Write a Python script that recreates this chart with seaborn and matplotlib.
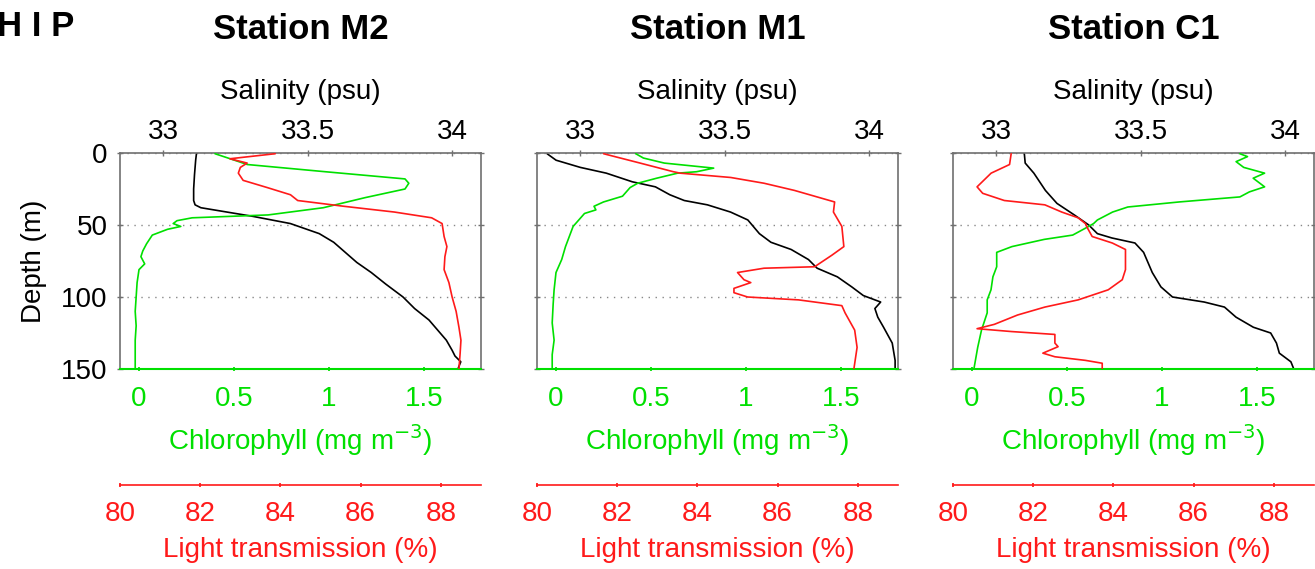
import matplotlib
matplotlib.use("Agg")
import matplotlib.pyplot as plt
import seaborn as sns
from matplotlib.ticker import FormatStrFormatter

sns.set_theme(style="ticks")
plt.rcParams['font.family'] = ['Liberation Sans', 'DejaVu Sans']
plt.rcParams['text.color'] = 'black'
plt.rcParams['axes.labelcolor'] = 'black'
plt.rcParams['xtick.labelcolor'] = 'black'
plt.rcParams['ytick.labelcolor'] = 'black'

GREEN = '#00e000'
RED = '#ff1a1a'
SPINE = '#707070'

stations = ["Station M2", "Station M1", "Station C1"]
sal_ticks = [33, 33.5, 34]
chl_ticks = [0, 0.5, 1, 1.5]
lt_ticks = [80, 82, 84, 86, 88]
depth_ticks = [0, 50, 100, 150]

# --- Station M2 ---
m2_sal_depth = [0, 5, 15, 25, 33, 36, 38, 41, 44, 49, 56, 62, 69, 76, 83, 91, 100, 108, 116, 123, 130, 137, 141, 145, 150]
m2_sal = [33.115, 33.112, 33.108, 33.105, 33.105, 33.11, 33.13, 33.22, 33.31, 33.44, 33.54, 33.59, 33.63, 33.67,
          33.72, 33.77, 33.83, 33.87, 33.92, 33.95, 33.98, 34.0, 34.01, 34.03, 34.02]
m2_chl_depth = [0.5, 4, 8, 13, 18, 21, 25, 31, 38, 43, 45, 47, 49, 51, 53, 57, 63, 68, 72, 77, 81, 90, 100, 110,
                120, 130, 140, 150]
m2_chl = [0.40, 0.48, 0.57, 0.98, 1.40, 1.42, 1.40, 1.19, 0.97, 0.68, 0.28, 0.20, 0.18, 0.22, 0.15, 0.07, 0.04,
          0.02, 0.01, 0.03, 0.0, -0.01, -0.015, -0.02, -0.015, -0.02, -0.02, -0.02]
m2_lt_depth = [0.5, 4, 7, 10, 14, 19, 24, 29, 33, 37, 41, 45, 49, 58, 65, 72, 81, 90, 100, 110, 121, 130, 139, 150]
m2_lt = [83.87, 82.74, 83.17, 83.0, 82.95, 83.07, 83.67, 84.25, 84.43, 85.58, 86.84, 87.77, 88.03, 88.08, 88.15,
         88.1, 88.08, 88.2, 88.28, 88.38, 88.45, 88.5, 88.48, 88.45]

# --- Station M1 ---
m1_sal_depth = [0.5, 5, 10, 14, 20, 23.5, 29, 33, 36, 41, 46.5, 56, 62, 67, 74, 80, 86, 93, 99, 103.5, 108, 114,
                121, 132, 144, 150]
m1_sal = [32.885, 32.916, 33.0, 33.09, 33.18, 33.26, 33.31, 33.36, 33.44, 33.52, 33.58, 33.62, 33.66, 33.73, 33.79,
          33.82, 33.89, 33.94, 33.98, 34.04, 34.02, 34.03, 34.05, 34.08, 34.09, 34.09]
m1_chl_depth = [0.5, 3.5, 7, 10.5, 13, 14, 17.5, 21, 24, 30, 34, 37, 39.5, 42, 46.5, 51, 58, 65, 74, 83, 95, 105,
                118, 130, 140, 150]
m1_chl = [0.42, 0.46, 0.57, 0.83, 0.74, 0.64, 0.53, 0.43, 0.39, 0.35, 0.25, 0.20, 0.21, 0.15, 0.12, 0.09, 0.07,
          0.05, 0.03, 0.0, -0.01, -0.015, -0.02, -0.01, -0.02, -0.02]
m1_lt_depth = [0.5, 7, 13, 14, 17, 21, 26, 30, 34, 41, 51, 65, 71, 79, 80, 83, 88, 90, 94, 97, 100, 102, 106, 111,
               123, 135, 150]
m1_lt = [81.66, 82.57, 83.40, 83.57, 84.83, 85.66, 86.42, 86.92, 87.42, 87.39, 87.6, 87.65, 87.35, 86.92, 85.66,
         85.0, 85.16, 85.33, 84.91, 84.91, 85.25, 86.52, 87.60, 87.68, 87.92, 87.98, 87.9]

# --- Station C1 ---
c1_sal_depth = [0.5, 7, 14, 26, 35, 43, 50, 56, 59, 62.5, 69, 83, 93, 100, 103.5, 107, 114, 121, 125, 132, 139,
                145, 150]
c1_sal = [33.097, 33.10, 33.13, 33.17, 33.21, 33.27, 33.32, 33.35, 33.40, 33.48, 33.51, 33.54, 33.57, 33.61, 33.72,
          33.79, 33.83, 33.89, 33.95, 33.97, 33.98, 34.02, 34.03]
c1_chl_depth = [0.5, 2.5, 6, 10, 14, 17.5, 23.5, 27, 30.5, 34, 37.5, 41, 46.5, 49, 52, 57, 60, 65, 69, 79, 86, 95,
                102, 111, 123, 135, 150]
c1_chl = [1.41, 1.45, 1.39, 1.43, 1.54, 1.48, 1.54, 1.46, 1.41, 1.09, 0.82, 0.74, 0.66, 0.64, 0.60, 0.53, 0.38,
          0.21, 0.13, 0.13, 0.11, 0.10, 0.08, 0.08, 0.05, 0.03, 0.01]
c1_lt_depth = [0.5, 8, 14, 23.5, 28, 33, 36, 41, 45, 49, 53, 58, 62.5, 67, 81, 88, 95, 102, 107, 112.5, 119, 122,
               124, 126, 132, 134.5, 139, 141.5, 144, 146, 150]
c1_lt = [81.45, 81.41, 80.95, 80.6, 80.74, 81.28, 82.29, 82.71, 83.12, 83.3, 83.37, 83.47, 83.97, 84.3, 84.3,
         84.22, 83.87, 83.12, 82.29, 81.61, 81.03, 80.6, 81.46, 82.54, 82.54, 82.62, 82.24, 82.54, 83.3, 83.72, 83.72]

profiles = [
    (m2_sal_depth, m2_sal, m2_chl_depth, m2_chl, m2_lt_depth, m2_lt),
    (m1_sal_depth, m1_sal, m1_chl_depth, m1_chl, m1_lt_depth, m1_lt),
    (c1_sal_depth, c1_sal, c1_chl_depth, c1_chl, c1_lt_depth, c1_lt),
]

FS = 20
W, H = 1315, 569
fig = plt.figure(figsize=(W / 100, H / 100), dpi=100)
lefts = [120, 537, 953]

for i, (name, prof) in enumerate(zip(stations, profiles)):
    sd, sv, cd, cv, ld, lv = prof
    ax = fig.add_axes([lefts[i] / W, 1 - 369 / H, 361 / W, 216 / H])
    ax_chl = ax.twiny()
    ax_lt = ax.twiny()

    sns.lineplot(x=sv, y=sd, sort=False, estimator=None, color='black', lw=1.2, ax=ax)
    sns.lineplot(x=cv, y=cd, sort=False, estimator=None, color=GREEN, lw=1.2, ax=ax_chl)
    sns.lineplot(x=lv, y=ld, sort=False, estimator=None, color=RED, lw=1.2, ax=ax_lt)

    # salinity axis on top
    ax.set_xlim(32.85, 34.1)
    ax.set_ylim(150, 0)
    ax.xaxis.set_ticks_position('top')
    ax.xaxis.set_label_position('top')
    ax.set_xticks(sal_ticks)
    ax.xaxis.set_major_formatter(FormatStrFormatter('%g'))
    ax.set_yticks(depth_ticks)
    ax.tick_params(axis='both', labelsize=FS, length=4, width=1, color=SPINE, labelcolor='black',
                   direction='inout', pad=7)
    ax.tick_params(axis='x', pad=3.5)
    ax.set_xlabel("Salinity (psu)", fontsize=FS, labelpad=15, color='black')
    ax.tick_params(axis='y', right=True, left=True)
    ax.grid(axis='y', linestyle=(0, (1, 4)), color='#888888', lw=1)
    for s in ['left', 'right', 'top']:
        ax.spines[s].set_color(SPINE)
        ax.spines[s].set_linewidth(1.2)
    ax.spines['bottom'].set_visible(False)
    if i == 0:
        ax.set_ylabel("Depth (m)", fontsize=FS, labelpad=10, color='black')
    else:
        ax.set_ylabel("")
        ax.tick_params(axis='y', labelleft=False)
    ax.set_title(name, fontsize=25, fontweight='bold', y=1.535, va='center', color='black')

    # chlorophyll axis at the bottom of the box
    ax_chl.set_xlim(-0.1, 1.8)
    ax_chl.xaxis.set_ticks_position('bottom')
    ax_chl.xaxis.set_label_position('bottom')
    ax_chl.set_xticks(chl_ticks)
    ax_chl.xaxis.set_major_formatter(FormatStrFormatter('%g'))
    ax_chl.tick_params(axis='x', labelsize=FS, colors=GREEN, labelcolor=GREEN, length=3,
                       direction='inout', pad=11)
    ax_chl.set_xlabel("Chlorophyll (mg m$^{-3}$)", fontsize=FS, color=GREEN, labelpad=7)
    for s in ['left', 'right', 'top']:
        ax_chl.spines[s].set_visible(False)
    ax_chl.spines['bottom'].set_color(GREEN)
    ax_chl.spines['bottom'].set_linewidth(1.5)

    # light transmission axis, detached below
    ax_lt.set_xlim(80, 89)
    ax_lt.xaxis.set_ticks_position('bottom')
    ax_lt.xaxis.set_label_position('bottom')
    ax_lt.spines['bottom'].set_position(('outward', 83.5))
    ax_lt.set_xticks(lt_ticks)
    ax_lt.tick_params(axis='x', labelsize=FS, colors=RED, labelcolor=RED, length=3,
                      direction='inout', pad=10)
    ax_lt.set_xlabel("Light transmission (%)", fontsize=FS, color=RED, labelpad=7)
    for s in ['left', 'right', 'top']:
        ax_lt.spines[s].set_visible(False)
    ax_lt.spines['bottom'].set_color(RED)
    ax_lt.spines['bottom'].set_linewidth(1.2)

fig.text(-0.002, 1 - 26 / H, "H I P", fontsize=25, fontweight='bold', va='center', ha='left', color='black')

fig.savefig("out.png", dpi=100)
